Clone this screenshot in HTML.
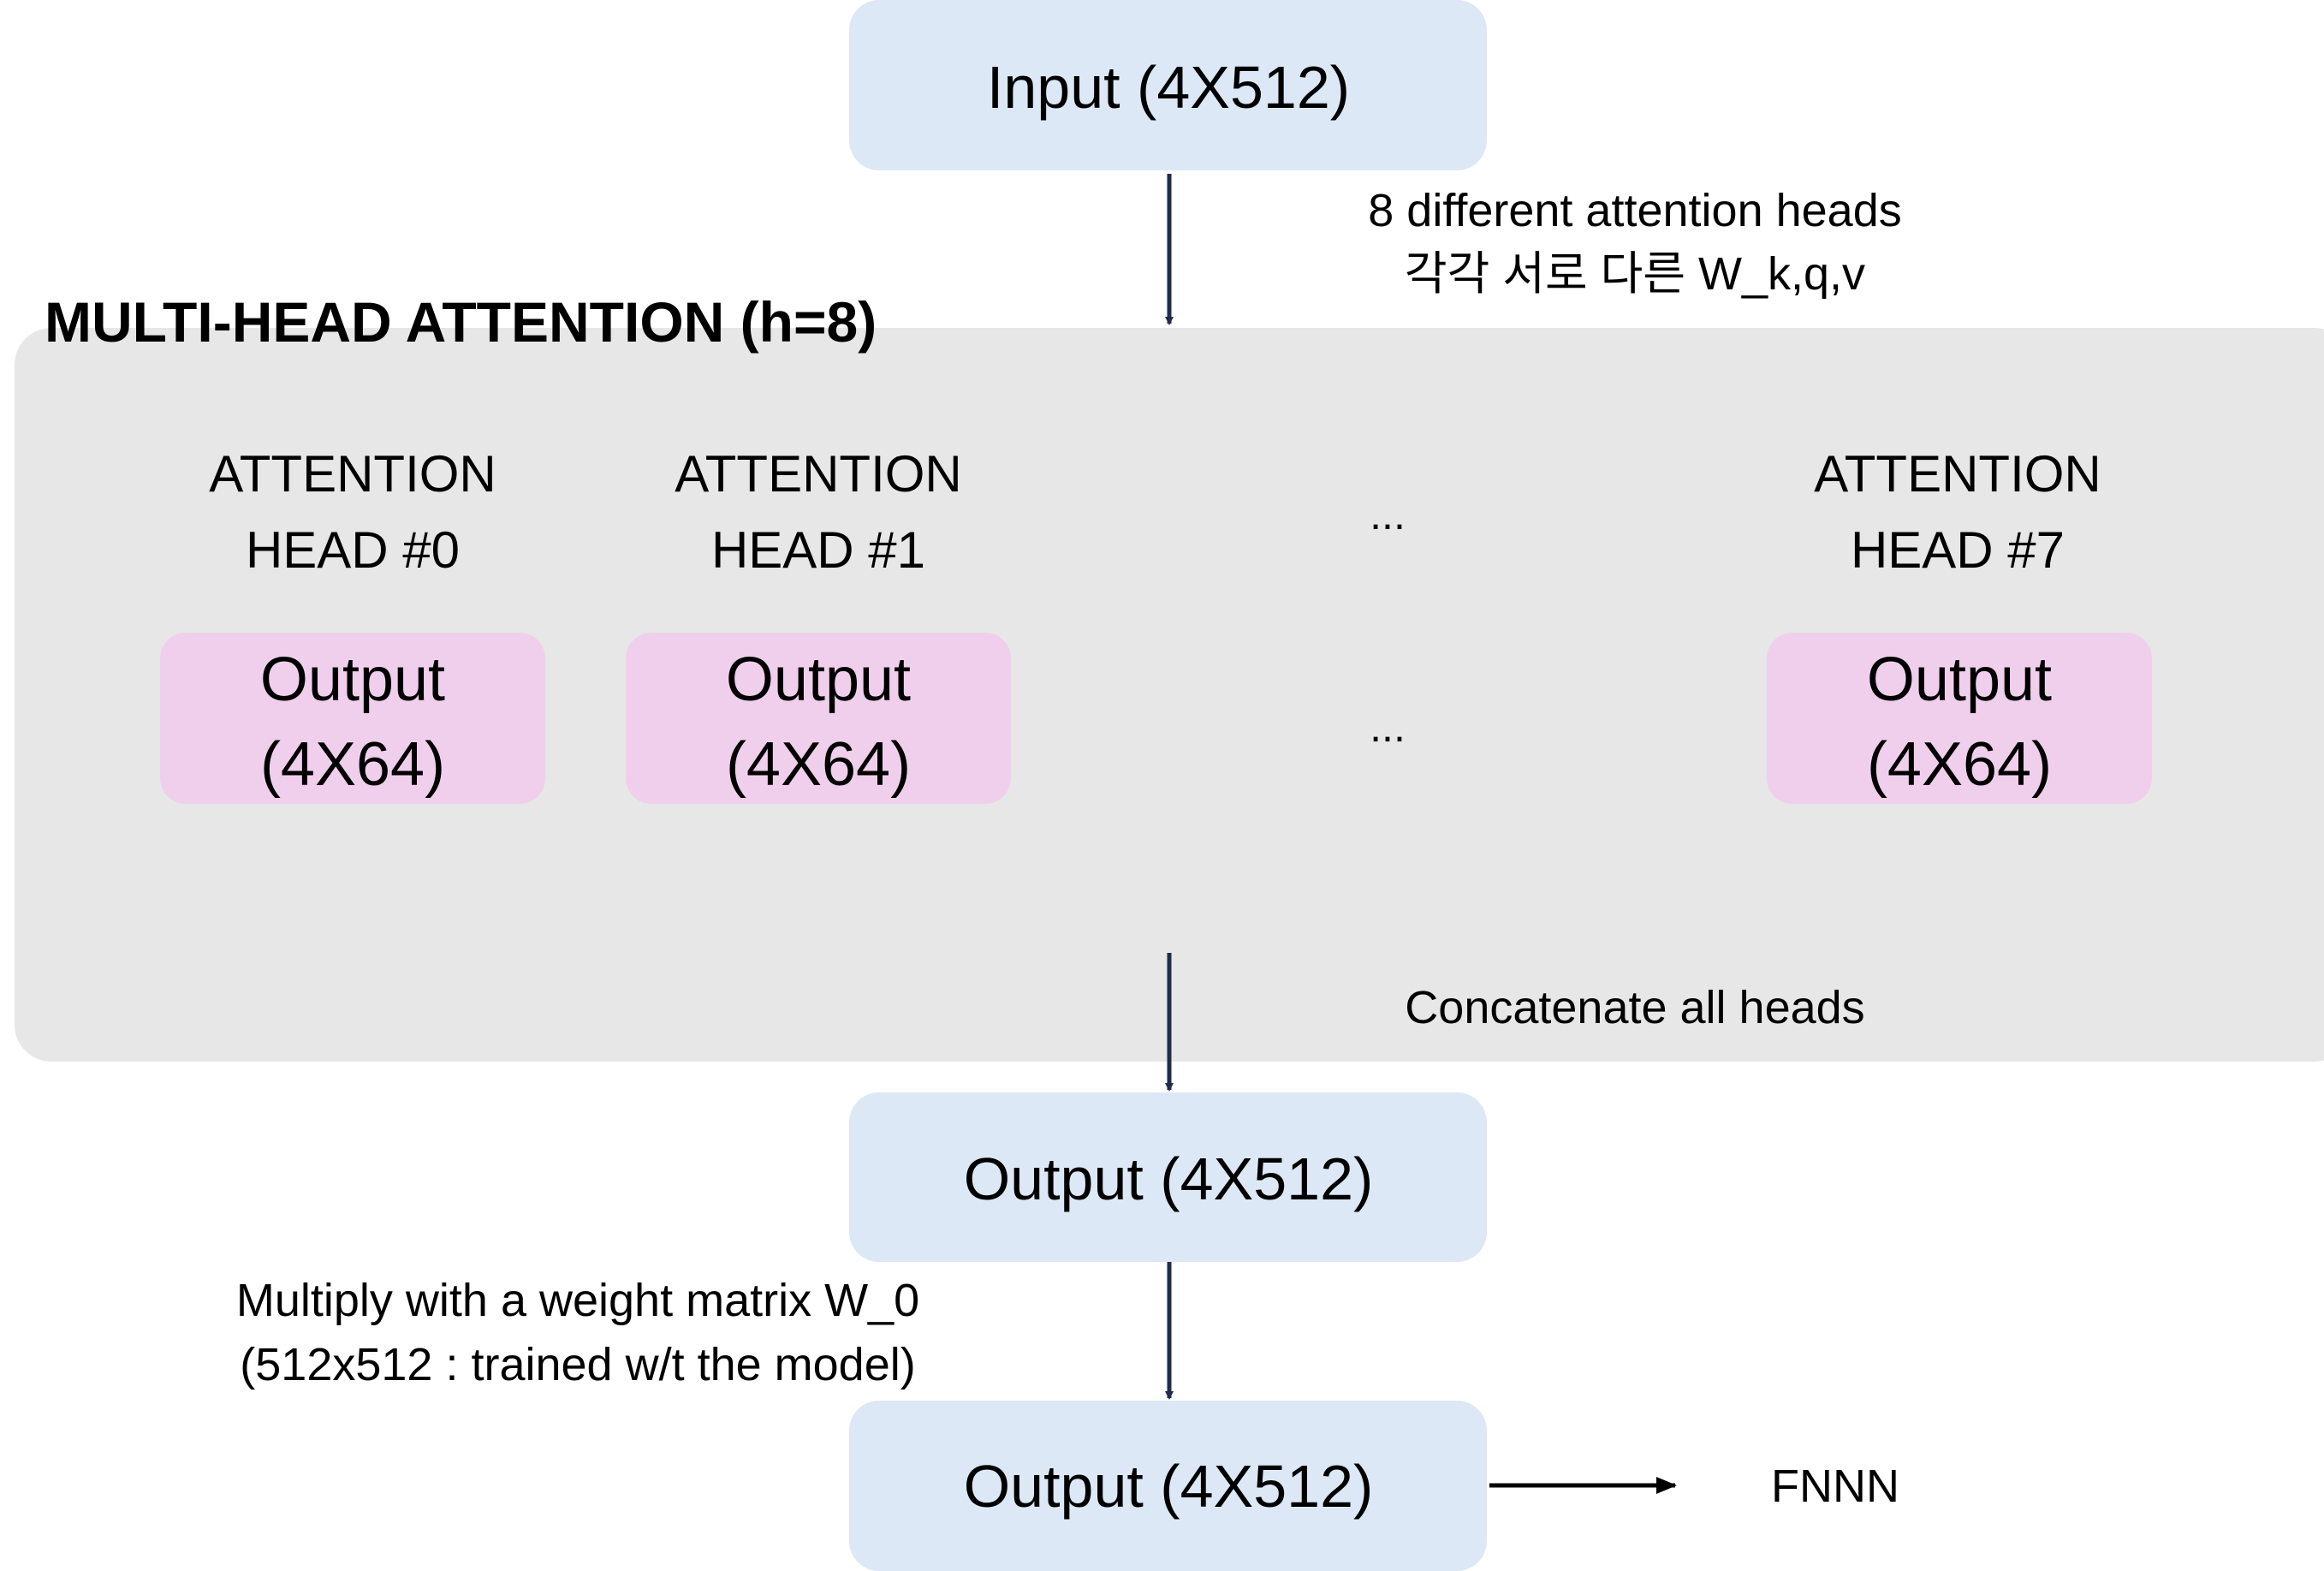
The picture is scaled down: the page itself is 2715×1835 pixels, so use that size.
<!DOCTYPE html>
<html><head><meta charset="utf-8"><style>
html,body{margin:0;padding:0;background:#fff;}
svg{display:block;}
text{font-family:"Liberation Sans","Noto Sans CJK KR",sans-serif;fill:#000;}
</style></head><body>
<svg width="2715" height="1835" viewBox="0 0 2715 1835" xmlns="http://www.w3.org/2000/svg">
<defs>
<marker id="ah" markerWidth="10" markerHeight="10" refX="8" refY="5" orient="auto" markerUnits="userSpaceOnUse">
<path d="M0,0 L10,5 L0,10 z" fill="#1f2d4a"/>
</marker>
<marker id="ah2" markerWidth="24" markerHeight="20" refX="22" refY="10" orient="auto" markerUnits="userSpaceOnUse">
<path d="M0,0 L24,10 L0,20 z" fill="#000"/>
</marker>
</defs>
<!-- Gray panel -->
<rect x="17" y="383" width="2730" height="857" rx="43" fill="#e7e7e7"/>
<!-- Input -->
<rect x="992" y="0" width="745" height="199" rx="35" fill="#dce8f5"/>
<text x="1365" y="126" font-size="70" text-anchor="middle">Input (4X512)</text>
<!-- arrow 1 -->
<line x1="1366" y1="203" x2="1366" y2="378" stroke="#1f2d4a" stroke-width="5" marker-end="url(#ah)"/>
<text x="1910" y="264" font-size="54" text-anchor="middle">8 different attention heads</text>
<text x="1910" y="338" font-size="54" text-anchor="middle">각각 서로 다른 W_k,q,v</text>
<!-- Title -->
<text x="52" y="399" font-size="66" font-weight="bold">MULTI-HEAD ATTENTION (h=8)</text>
<!-- heads -->
<g font-size="60">
<text x="412" y="574" text-anchor="middle">ATTENTION</text>
<text x="412" y="663" text-anchor="middle">HEAD #0</text>
<text x="956" y="574" text-anchor="middle">ATTENTION</text>
<text x="956" y="663" text-anchor="middle">HEAD #1</text>
<text x="2287" y="574" text-anchor="middle">ATTENTION</text>
<text x="2287" y="663" text-anchor="middle">HEAD #7</text>
</g>
<text x="1621" y="618" font-size="50" text-anchor="middle">...</text>
<text x="1621" y="866" font-size="50" text-anchor="middle">...</text>
<!-- pink boxes -->
<rect x="187" y="739" width="450" height="200" rx="30" fill="#f0cfec"/>
<rect x="731" y="739" width="450" height="200" rx="30" fill="#f0cfec"/>
<rect x="2064" y="739" width="450" height="200" rx="30" fill="#f0cfec"/>
<g font-size="72">
<text x="412" y="818" text-anchor="middle">Output</text>
<text x="412" y="917" text-anchor="middle">(4X64)</text>
<text x="956" y="818" text-anchor="middle">Output</text>
<text x="956" y="917" text-anchor="middle">(4X64)</text>
<text x="2289" y="818" text-anchor="middle">Output</text>
<text x="2289" y="917" text-anchor="middle">(4X64)</text>
</g>
<!-- arrow 2 -->
<line x1="1366" y1="1113" x2="1366" y2="1273" stroke="#1f2d4a" stroke-width="5" marker-end="url(#ah)"/>
<text x="1910" y="1195" font-size="54" text-anchor="middle">Concatenate all heads</text>
<!-- Output 1 -->
<rect x="992" y="1276" width="745" height="198" rx="35" fill="#dce8f5"/>
<text x="1365" y="1401" font-size="70" text-anchor="middle">Output (4X512)</text>
<!-- arrow 3 -->
<line x1="1366" y1="1474" x2="1366" y2="1633" stroke="#1f2d4a" stroke-width="5" marker-end="url(#ah)"/>
<text x="675" y="1537" font-size="54" text-anchor="middle">Multiply with a weight matrix W_0</text>
<text x="675" y="1612" font-size="54" text-anchor="middle">(512x512 : trained w/t the model)</text>
<!-- Output 2 -->
<rect x="992" y="1636" width="745" height="199" rx="35" fill="#dce8f5"/>
<text x="1365" y="1760" font-size="70" text-anchor="middle">Output (4X512)</text>
<!-- arrow right -->
<line x1="1740" y1="1735" x2="1957" y2="1735" stroke="#000" stroke-width="5" marker-end="url(#ah2)"/>
<text x="2144" y="1754" font-size="54" text-anchor="middle">FNNN</text>
</svg>
</body></html>
